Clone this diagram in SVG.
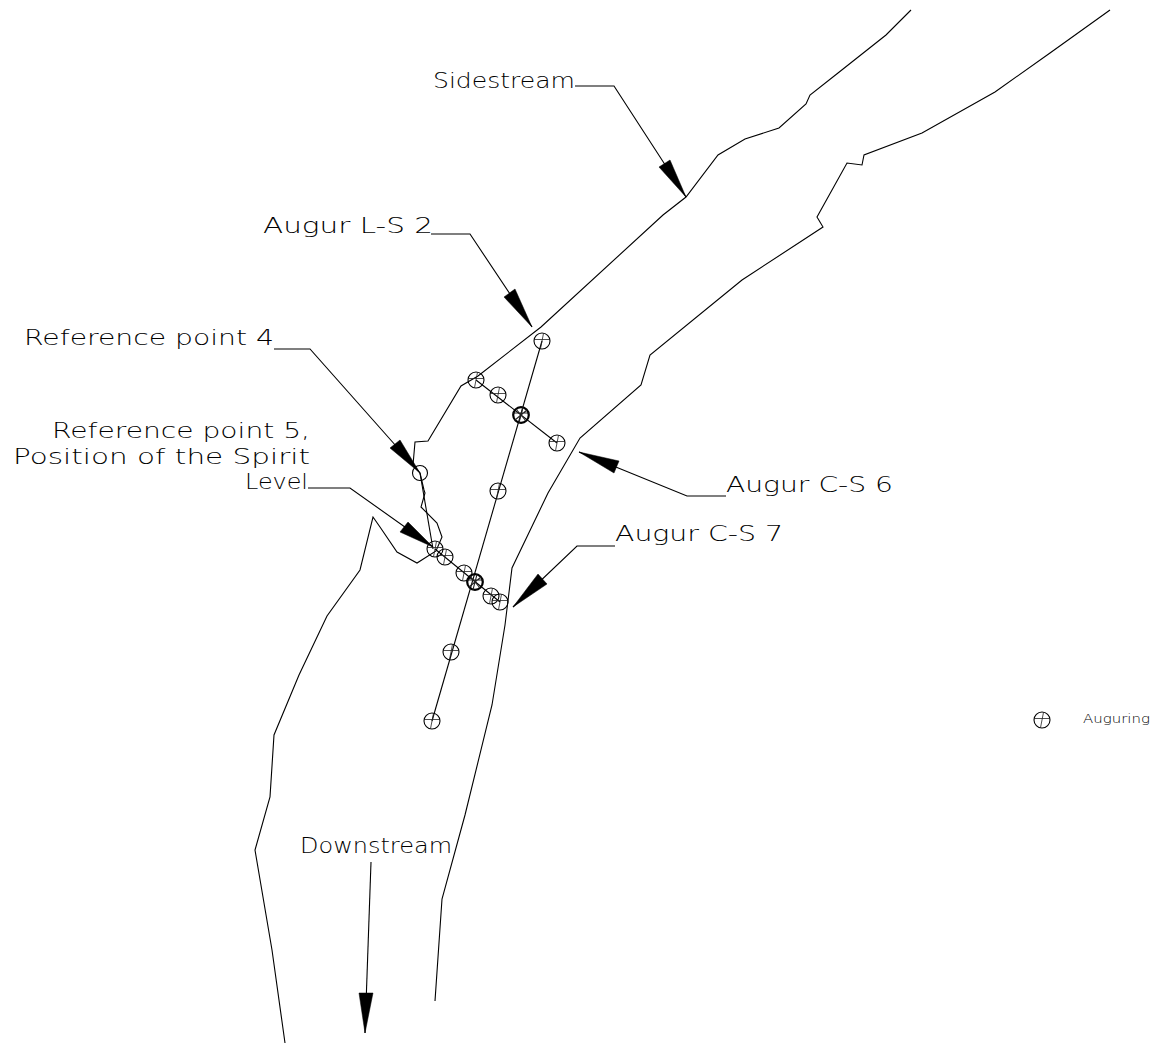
<svg xmlns="http://www.w3.org/2000/svg" width="1156" height="1045" viewBox="0 0 1156 1045">
<style>
.l{fill:none;stroke:#000;stroke-width:1.1}
.t{fill:none;stroke:#222;stroke-width:.8}
.h{fill:#000;stroke:#000;stroke-width:.5}
text{font-family:"DejaVu Sans",sans-serif;font-weight:200;font-size:22px;fill:#000}
</style>
<defs>
<g id="aug"><circle r="8" class="l"/><path class="t" d="M-7.7-1.5H7.7M1.5-7.7L-1.5 7.7"/></g>
<g id="augb"><circle r="7.8" class="l" style="stroke-width:2.2"/><path class="t" d="M-7.7-2H7.7M2-7.7L-2 7.7M-5-6L5 6M-6 5L6-5" style="stroke-width:1.1"/></g>
</defs>
<rect width="1156" height="1045" fill="#fff"/>
<g id="banks">
<polyline class="l" points="911,10 886,35 838,73 810,95 806,104 779,128 745,139 718,155 686,197 663,215 541,327 478,376 461,386 428,441 415,442 413,465 420,473 424,490 425,493 421,507 437,523 442,537 436,551 417,563 397,552 380,527 373,517 360,570 327,616 299,675 274,735 270,797 255,850 272,950 285,1043"/>
<polyline class="l" points="1110,10 1050,53 995,92 922,133 864,155 862,165 847,163 817,217 823,227 742,280 650,355 641,385 580,438 548,493 512,568 505,625 492,705 465,815 442,899 435,1001"/>
</g>
<g id="connectors">
<polyline class="l" points="542,341 432,721"/>
<polyline class="l" points="476,380 557,443"/>
<polyline class="l" points="435,549 500,602"/>
<polyline class="l" points="420,473 433,549"/>
<polyline class="l" points="575,86 614,86 686,197"/><polygon class="h" points="686,197 659,167 670,160"/>
<polyline class="l" points="431,234 470,234 532,327"/><polygon class="h" points="532,327 504,297 515,289"/>
<polyline class="l" points="274,349 310,349 420,473"/><polygon class="h" points="420,473 390,448 400,440"/>
<polyline class="l" points="308,488 350,488 433,547"/><polygon class="h" points="433,547 400,532 408,522"/>
<polyline class="l" points="726,496 687,496 579,452"/><polygon class="h" points="579,452 619,461 614,473"/>
<polyline class="l" points="615,546 577,546 513,607"/><polygon class="h" points="513,607 538,574 547,584"/>
<polyline class="l" points="371,862 365,1033"/><polygon class="h" points="365,1033 359,993 373,993"/>
</g>
<g id="reference-point-4"><circle cx="420" cy="473" r="7.5" class="l"/></g>
<g id="augurings">
<use id="a1" href="#aug" x="542" y="341"/>
<use id="a2" href="#aug" x="476" y="380"/>
<use id="a3" href="#aug" x="498" y="395"/>
<use id="a4" href="#augb" x="521" y="415"/>
<use id="a5" href="#aug" x="557" y="443"/>
<use id="a6" href="#aug" x="498" y="491"/>
<use id="a7" href="#aug" x="435" y="549"/>
<use id="a8" href="#aug" x="445" y="557"/>
<use id="a9" href="#aug" x="464" y="573"/>
<use id="a10" href="#augb" x="475" y="582"/>
<use id="a11" href="#aug" x="491" y="596"/>
<use id="a12" href="#aug" x="500" y="602"/>
<use id="a13" href="#aug" x="451" y="652"/>
<use id="a14" href="#aug" x="432" y="721"/>
<use id="legend-symbol" href="#aug" x="1042" y="720"/>
</g>
<g id="labels">
<text x="433" y="88" textLength="142" lengthAdjust="spacingAndGlyphs">Sidestream</text>
<text x="263" y="233" textLength="170" lengthAdjust="spacingAndGlyphs">Augur L-S 2</text>
<text x="24" y="345" textLength="250" lengthAdjust="spacingAndGlyphs">Reference point 4</text>
<text x="52" y="438" textLength="258" lengthAdjust="spacingAndGlyphs">Reference point 5,</text>
<text x="13" y="464" textLength="297" lengthAdjust="spacingAndGlyphs">Position of the Spirit</text>
<text x="245" y="489" textLength="63" lengthAdjust="spacingAndGlyphs">Level</text>
<text x="726" y="492" textLength="167" lengthAdjust="spacingAndGlyphs">Augur C-S 6</text>
<text x="615" y="541" textLength="168" lengthAdjust="spacingAndGlyphs">Augur C-S 7</text>
<text x="300" y="853" textLength="152" lengthAdjust="spacingAndGlyphs">Downstream</text>
<text x="1083" y="723" textLength="67" lengthAdjust="spacingAndGlyphs" style="font-size:13px">Auguring</text>
</g>
</svg>
